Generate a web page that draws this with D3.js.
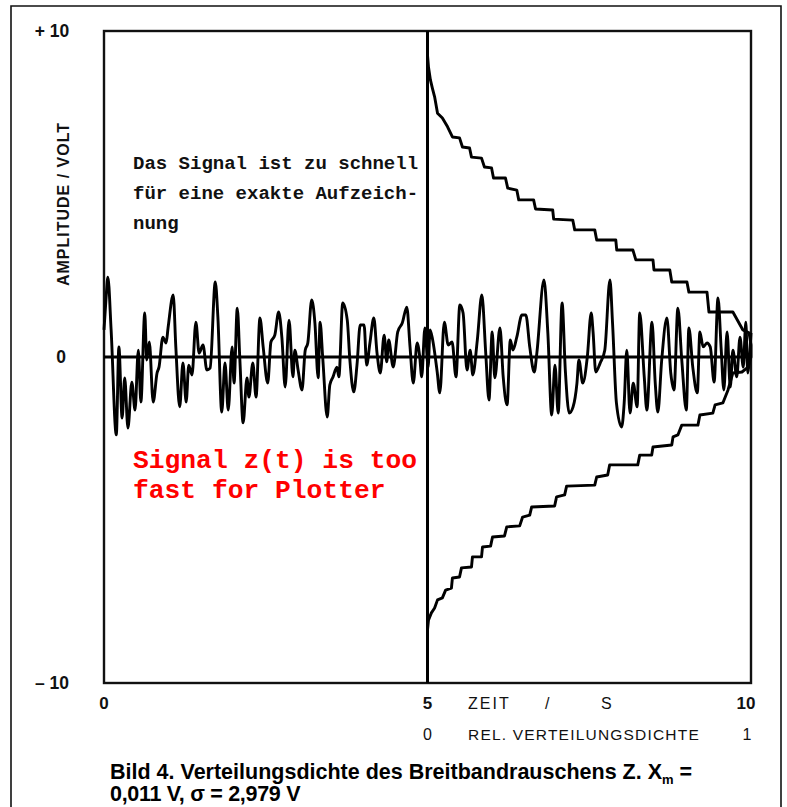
<!DOCTYPE html>
<html>
<head>
<meta charset="UTF-8" />
<title>Bild 4</title>
<style>
  body { margin: 0; background: #fff; }
  svg { display: block; }
  .lbl { font-family: "Liberation Sans", Arial, sans-serif; fill: #111; }
  .mono { font-family: "Liberation Mono", "Courier New", monospace; font-weight: bold; }
</style>
<script src="https://d3js.org/d3.v7.min.js"></script>
</head>
<body>
<script>
// ---- data ----
// signal z(t): time in s, amplitude in V
var sigT = [0.00,0.03,0.06,0.11,0.19,0.23,0.28,0.32,0.37,0.43,0.48,0.53,0.57,0.63,0.66,0.70,0.76,0.82,0.85,0.91,
  0.96,0.99,1.07,1.11,1.17,1.22,1.27,1.31,1.36,1.42,1.47,1.53,1.59,1.64,1.72,1.76,1.82,1.87,1.92,1.98,
  2.01,2.06,2.10,2.15,2.21,2.24,2.30,2.35,2.41,2.46,2.53,2.58,2.64,2.70,2.75,2.80,2.86,2.92,2.95,3.00,
  3.06,3.11,3.15,3.21,3.26,3.31,3.34,3.38,3.45,3.49,3.54,3.60,3.63,3.69,3.76,3.80,3.86,3.91,3.96,4.02,
  4.06,4.11,4.17,4.22,4.27,4.33,4.37,4.40,4.47,4.54,4.61,4.68,4.73,4.78,4.84,4.88,4.91,4.96,5.01,5.04,
  5.08,5.15,5.19,5.26,5.32,5.38,5.44,5.50,5.55,5.61,5.66,5.70,5.77,5.84,5.90,5.95,6.00,6.04,6.12,6.17,
  6.23,6.28,6.32,6.38,6.46,6.52,6.58,6.65,6.69,6.80,6.86,6.92,6.97,7.02,7.08,7.13,7.19,7.25,7.31,7.34,
  7.40,7.47,7.53,7.56,7.60,7.67,7.74,7.82,7.86,7.92,8.00,8.04,8.08,8.13,8.18,8.24,8.28,8.35,8.39,8.47,
  8.52,8.56,8.62,8.70,8.76,8.81,8.87,8.93,9.00,9.04,9.10,9.17,9.21,9.26,9.32,9.37,9.43,9.49,9.54,9.58,
  9.63,9.68,9.72,9.78,9.83,9.88,9.92,9.95,10.00];
var sigV = [0.83,1.75,2.45,0.83,-2.39,0.31,-1.87,-0.64,-2.18,-0.77,-1.63,0.21,-1.38,1.35,-0.09,0.46,-1.38,-0.49,-0.31,0.61,
  0.43,0.89,1.90,0.31,-1.53,-0.18,-1.38,-0.25,-0.55,1.07,0.12,0.37,-0.40,-0.34,2.30,1.23,-1.69,-0.18,-1.63,0.31,
  -0.80,1.50,-0.09,-2.02,-0.64,-1.23,-0.18,-1.23,1.20,0.31,-0.80,0.46,0.67,1.38,0.58,-0.92,1.13,-0.61,0.21,-0.40,
  -1.01,0.21,0.43,1.75,1.04,-0.64,1.07,0.00,-1.84,-0.86,-0.61,-0.31,-0.61,1.66,1.13,-0.09,-1.07,-0.25,0.98,0.98,
  -0.25,0.43,1.20,0.12,-0.49,0.67,-0.15,0.52,-0.31,0.77,1.04,1.53,0.31,-0.80,0.43,0.00,-0.61,0.89,-0.31,0.83,
  0.52,-0.46,-1.10,1.07,0.37,0.46,-0.61,1.60,1.35,-0.40,0.21,-0.55,0.52,1.90,0.12,-1.32,0.77,-0.64,0.89,-0.61,
  -1.47,0.52,0.21,0.61,1.29,1.29,0.31,-0.46,0.12,2.36,0.74,-1.78,-0.25,-1.72,1.66,-0.40,-1.72,-1.53,-0.80,-0.09,
  -0.80,0.00,1.35,0.74,-0.46,-0.18,0.21,2.36,1.04,-1.41,-2.15,-1.41,0.21,-1.72,-0.80,-1.53,1.35,-0.61,-1.63,1.07,
  -0.80,-1.69,-0.09,1.20,-0.49,-1.01,1.50,-0.09,-1.63,0.89,-0.31,-1.10,0.77,0.31,0.43,0.31,-0.77,1.81,0.21,-1.01,
  0.77,-0.92,0.21,-0.61,0.61,-0.31,1.07,-0.49,0.74];

// relative distribution density (staircase from the plotter), density 0..1 vs amplitude in V
var densD = [0,0,0.003,0.009,0.015,0.022,0.031,0.046,0.062,0.077,0.099,0.108,0.130,0.136,0.167,0.176,0.198,0.204,0.241,0.248,
  0.276,0.282,0.328,0.334,0.387,0.390,0.449,0.455,0.517,0.523,0.582,0.585,0.635,0.644,0.697,0.700,0.749,0.755,0.802,0.808,
  0.864,0.870,0.944,0.975,0.994,1,1,
  0.991,0.972,0.944,0.929,0.913,0.889,0.882,0.842,0.836,0.786,0.774,0.759,0.755,0.697,0.693,0.656,0.650,0.563,0.557,
  0.523,0.517,0.430,0.424,0.399,0.393,0.322,0.316,0.294,0.285,0.245,0.238,0.201,0.195,0.170,0.167,0.139,0.136,0.105,0.099,
  0.077,0.074,0.056,0.046,0.031,0.022,0.012,0.003,0,0];
var densA = [10.00,9.26,8.90,8.50,8.25,7.98,7.48,7.33,7.06,6.75,6.72,6.44,6.41,6.13,6.10,5.83,5.80,5.49,5.49,5.18,
  5.12,4.82,4.82,4.54,4.51,4.23,4.20,3.90,3.90,3.59,3.59,3.28,3.28,2.98,2.98,2.67,2.67,2.30,2.30,1.99,
  1.99,1.38,1.38,0.83,0.74,0.37,0.00,
  -0.31,-0.46,-0.49,-1.01,-1.41,-1.47,-1.72,-1.78,-2.09,-2.09,-2.39,-2.45,-2.70,-2.76,-3.01,-3.01,-3.31,-3.31,-3.62,
  -3.68,-3.93,-3.96,-4.23,-4.29,-4.57,-4.60,-4.85,-4.91,-5.18,-5.21,-5.49,-5.52,-5.80,-5.83,-6.13,-6.13,-6.44,-6.47,-6.75,
  -6.78,-7.09,-7.15,-7.39,-7.45,-7.70,-7.85,-8.07,-8.37,-10.00];

var ampTicks = [10, 0, -10];
var ampLabels = ["+ 10", "0", "\u2013 10"];
var timeTicks = [0, 5, 10];
var densTicks = [0, 1];

// ---- layout ----
var width = 787, height = 807;

var svg = d3.select("body").append("svg")
    .attr("width", width)
    .attr("height", height);

var x = d3.scaleLinear().domain([0, 10]).range([104, 751]);
var y = d3.scaleLinear().domain([-10, 10]).range([683, 31]);
var xd = d3.scaleLinear().domain([0, 1]).range([x(5), x(10)]);

// outer page frame
svg.append("path")
    .attr("d", "M11,807 L11,6 L781,6 L781,807")
    .style("fill", "none")
    .style("stroke", "#111")
    .style("stroke-width", 1.6);

// plot frame
svg.append("rect")
    .attr("x", x(0)).attr("y", y(10))
    .attr("width", x(10) - x(0)).attr("height", y(-10) - y(10))
    .style("fill", "none")
    .style("stroke", "#111")
    .style("stroke-width", 2.4);

// zero line and 5 s line
svg.append("line")
    .attr("x1", x(0)).attr("x2", x(10))
    .attr("y1", y(0)).attr("y2", y(0))
    .style("stroke", "#000").style("stroke-width", 3);

svg.append("line")
    .attr("x1", x(5)).attr("x2", x(5))
    .attr("y1", y(10)).attr("y2", y(-10))
    .style("stroke", "#000").style("stroke-width", 3);

// signal (plotter pen: smooth rounded strokes)
var sigLine = d3.line()
    .x(function(d, i) { return x(sigT[i]); })
    .y(function(d, i) { return y(sigV[i]); })
    .curve(d3.curveMonotoneX);

svg.append("path")
    .attr("d", sigLine(sigT))
    .style("fill", "none")
    .style("stroke", "#000")
    .style("stroke-width", 2.9)
    .style("stroke-linejoin", "round");

// density staircase
var densLine = d3.line()
    .x(function(d, i) { return xd(densD[i]); })
    .y(function(d, i) { return y(densA[i]); });

svg.append("path")
    .attr("d", densLine(densD))
    .style("fill", "none")
    .style("stroke", "#000")
    .style("stroke-width", 2.9)
    .style("stroke-linejoin", "round");

// amplitude tick labels
svg.selectAll(".amp")
    .data(ampTicks)
    .enter().append("text")
    .attr("class", "lbl")
    .attr("x", function(d) { return d == 0 ? 61 : 52; })
    .attr("y", function(d) { return y(d) + 6; })
    .attr("text-anchor", "middle")
    .style("font-size", "17.5px")
    .style("font-weight", "bold")
    .text(function(d, i) { return ampLabels[i]; });

svg.append("text")
    .attr("class", "lbl")
    .attr("transform", "translate(69,204)rotate(-90)")
    .attr("text-anchor", "middle")
    .style("font-size", "16px")
    .style("font-weight", "bold")
    .style("letter-spacing", "1px")
    .text("AMPLITUDE / VOLT");

// time axis labels
svg.selectAll(".tt")
    .data(timeTicks)
    .enter().append("text")
    .attr("class", "lbl")
    .attr("x", function(d) { return d == 10 ? x(d) - 5 : x(d); })
    .attr("y", 709)
    .attr("text-anchor", "middle")
    .style("font-size", "17px")
    .style("font-weight", "bold")
    .text(function(d) { return d; });

var zt = svg.append("text")
    .attr("class", "lbl")
    .attr("y", 709)
    .style("font-size", "16px")
    .style("letter-spacing", "2px");
zt.append("tspan").attr("x", 468).text("ZEIT");
zt.append("tspan").attr("x", 545).text("/");
zt.append("tspan").attr("x", 601).text("S");

// density axis labels
svg.selectAll(".dt")
    .data(densTicks)
    .enter().append("text")
    .attr("class", "lbl")
    .attr("x", function(d) { return d == 1 ? xd(d) - 4 : xd(d); })
    .attr("y", 740)
    .attr("text-anchor", "middle")
    .style("font-size", "16px")
    .text(function(d) { return d; });

svg.append("text")
    .attr("class", "lbl")
    .attr("x", 468)
    .attr("y", 740)
    .style("font-size", "15.5px")
    .style("letter-spacing", "1.2px")
    .text("REL. VERTEILUNGSDICHTE");

// typewriter note
var note = ["Das Signal ist zu schnell", "für eine exakte Aufzeich-", "nung"];
svg.selectAll(".note")
    .data(note)
    .enter().append("text")
    .attr("class", "mono")
    .attr("x", 133)
    .attr("y", function(d, i) { return 169 + i * 30; })
    .style("font-size", "19px")
    .style("fill", "#111")
    .text(function(d) { return d; });

var red = ["Signal z(t) is too", "fast for Plotter"];
svg.selectAll(".red")
    .data(red)
    .enter().append("text")
    .attr("class", "mono")
    .attr("x", 133)
    .attr("y", function(d, i) { return 468 + i * 30; })
    .style("font-size", "26.3px")
    .style("fill", "#ff0000")
    .text(function(d) { return d; });

// caption
var cap = svg.append("text")
    .attr("class", "lbl")
    .attr("x", 110)
    .attr("y", 779)
    .style("font-size", "21.5px")
    .style("font-weight", "bold")
    .style("fill", "#000");
cap.append("tspan").text("Bild 4. Verteilungsdichte des Breitbandrauschens Z. X");
cap.append("tspan").attr("dy", 5).style("font-size", "13px").text("m");
cap.append("tspan").attr("dy", -5).text(" =");

svg.append("text")
    .attr("class", "lbl")
    .attr("x", 110)
    .attr("y", 801)
    .style("font-size", "21.5px")
    .style("font-weight", "bold")
    .style("letter-spacing", "-0.3px")
    .style("fill", "#000")
    .text("0,011 V, \u03c3 = 2,979 V");
</script>
</body>
</html>
